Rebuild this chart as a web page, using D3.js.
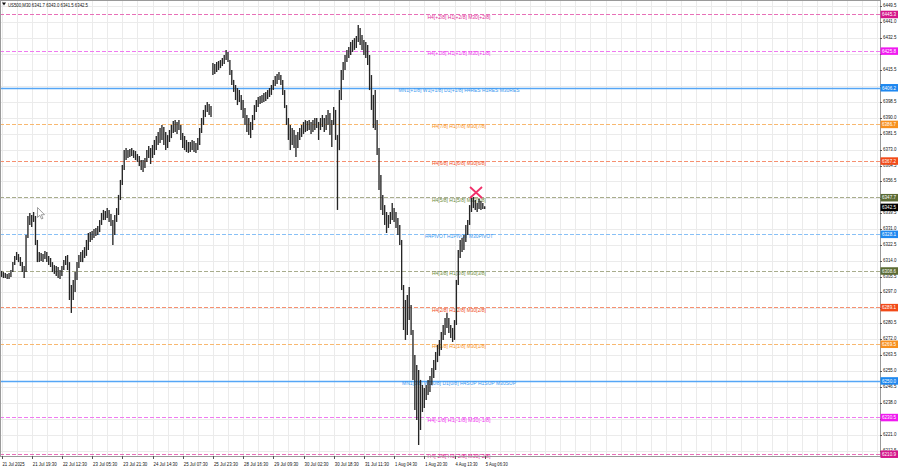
<!DOCTYPE html>
<html><head><meta charset="utf-8">
<script src="https://cdn.jsdelivr.net/npm/d3@7"></script>
<style>
html,body{margin:0;padding:0;background:#fff;}
svg{display:block;}
text{font-family:"Liberation Sans","DejaVu Sans",Arial,sans-serif;}
</style></head><body>
<svg id="c" width="900" height="467"></svg>
<script>
const symbolTitle = "US500,M30 6341.7 6343.0 6341.5 6342.5";

const highs = [
6308.5,6307.9,6307.4,6306.9,6307.4,6309.0,6313.2,6316.5,6318.6,6317.5,
6315.9,6313.2,6311.1,6327.6,6337.8,6339.4,6338.3,6339.9,6337.8,6325.0,
6318.6,6318.0,6317.5,6319.1,6318.6,6316.5,6315.4,6313.2,6311.6,6311.1,
6310.6,6309.0,6311.1,6314.3,6316.5,6317.0,6313.2,6301.0,6303.7,6307.9,
6313.2,6317.0,6318.6,6319.6,6321.2,6325.0,6328.7,6329.2,6329.8,6330.8,
6331.4,6332.4,6335.6,6339.4,6341.0,6340.4,6342.0,6341.0,6338.8,6335.6,
6338.3,6342.0,6349.0,6357.0,6365.0,6372.9,6374.0,6372.9,6373.5,6374.0,
6372.9,6372.4,6370.8,6369.8,6367.6,6367.6,6368.7,6372.9,6375.1,6374.0,
6375.6,6378.3,6380.4,6382.5,6384.7,6386.3,6385.2,6382.5,6380.9,6383.6,
6386.3,6388.4,6388.9,6387.9,6388.9,6386.3,6382.0,6380.4,6378.3,6377.2,
6377.2,6378.3,6377.7,6376.7,6379.3,6384.7,6390.0,6394.3,6396.9,6398.5,
6397.5,6396.4,6419.3,6418.8,6419.9,6420.4,6420.9,6422.0,6423.6,6426.3,
6425.2,6420.9,6415.6,6410.3,6407.6,6406.0,6404.9,6402.3,6399.6,6395.3,
6391.6,6390.0,6387.9,6391.6,6396.9,6399.6,6401.2,6401.7,6402.3,6403.3,
6403.9,6404.9,6406.0,6407.6,6410.3,6412.4,6413.5,6414.5,6412.9,6410.3,
6404.9,6396.9,6390.0,6386.3,6384.7,6383.6,6380.9,6382.5,6384.7,6386.3,
6387.9,6388.9,6388.4,6388.9,6387.9,6388.9,6390.0,6390.0,6387.9,6390.0,
6391.6,6390.0,6391.6,6394.3,6392.7,6388.9,6395.9,6394.3,6380.9,6404.9,
6415.6,6419.9,6423.6,6426.3,6427.8,6430.5,6431.6,6432.6,6433.7,6439.6,
6438.0,6434.2,6431.6,6430.5,6428.9,6423.6,6412.9,6402.3,6404.9,6388.9,
6374.0,6359.6,6349.0,6343.6,6339.9,6338.3,6339.9,6344.7,6342.0,6339.9,
6336.7,6333.0,6325.0,6301.0,6293.0,6295.7,6299.9,6290.3,6277.0,6263.7,
6258.4,6255.7,6250.4,6247.7,6246.1,6247.7,6250.4,6252.5,6256.8,6261.0,
6265.3,6269.0,6271.7,6276.0,6279.7,6283.4,6286.1,6283.4,6279.7,6278.1,
6282.3,6303.7,6319.6,6325.0,6326.0,6327.6,6333.0,6335.6,6343.6,6347.4,
6347.9,6346.3,6344.7,6346.8,6345.8,6344.7,6343.0];

const lows = [
6305.3,6304.7,6304.7,6304.2,6304.2,6305.3,6307.9,6311.6,6314.3,6313.2,
6311.1,6307.9,6304.7,6307.9,6326.0,6333.0,6331.9,6334.6,6322.3,6313.2,
6313.2,6313.8,6313.2,6314.9,6313.2,6311.6,6310.6,6307.9,6306.9,6305.8,
6304.7,6304.2,6305.8,6309.0,6311.6,6309.0,6293.0,6286.1,6293.0,6297.3,
6303.7,6310.1,6313.2,6313.2,6315.4,6316.5,6319.6,6323.9,6325.0,6326.0,
6327.1,6327.6,6329.2,6333.0,6335.6,6335.6,6336.7,6334.6,6332.4,6322.3,
6327.6,6334.6,6338.3,6346.3,6354.3,6362.3,6367.6,6368.7,6369.2,6369.8,
6368.7,6367.6,6366.6,6364.4,6362.3,6361.2,6363.4,6366.6,6368.7,6365.5,
6368.7,6370.3,6372.9,6375.6,6376.7,6378.3,6375.6,6372.9,6374.0,6377.2,
6379.3,6382.0,6382.5,6381.5,6383.6,6378.3,6374.0,6372.9,6371.9,6371.4,
6371.9,6372.9,6371.9,6371.4,6372.9,6375.6,6382.0,6386.3,6390.5,6393.2,
6391.6,6390.5,6412.9,6413.5,6414.5,6415.6,6416.6,6417.7,6418.8,6420.9,
6419.9,6412.9,6407.6,6403.9,6399.6,6396.9,6398.5,6394.3,6390.0,6386.3,
6382.5,6380.9,6379.3,6383.6,6388.9,6393.2,6395.9,6397.5,6398.0,6398.5,
6399.1,6400.1,6401.2,6402.3,6404.9,6407.1,6408.1,6410.3,6407.6,6402.3,
6395.3,6386.3,6378.3,6372.9,6375.6,6374.0,6369.2,6374.0,6378.3,6379.9,
6381.5,6382.5,6383.1,6383.6,6381.5,6382.5,6383.6,6384.7,6378.3,6383.6,
6385.2,6382.5,6383.6,6386.3,6380.9,6374.5,6386.3,6378.3,6341.0,6372.9,
6399.6,6410.3,6415.6,6419.9,6422.0,6423.6,6425.2,6426.3,6427.3,6430.5,
6428.9,6426.3,6423.6,6422.0,6418.3,6404.9,6394.3,6384.7,6383.6,6370.3,
6351.6,6341.0,6338.3,6333.0,6328.7,6331.4,6333.5,6335.6,6334.6,6331.4,
6327.6,6322.3,6298.3,6277.0,6271.7,6274.3,6282.3,6274.3,6250.4,6234.4,
6229.0,6215.7,6223.7,6233.3,6235.4,6239.7,6242.4,6244.0,6247.7,6251.4,
6255.7,6259.9,6263.2,6266.4,6271.7,6274.3,6278.1,6275.4,6272.8,6270.6,
6271.7,6279.7,6301.0,6315.4,6318.6,6319.6,6323.9,6327.6,6333.0,6339.9,
6342.0,6341.0,6339.9,6341.5,6341.0,6341.5,6341.5];

const timeLabels = ["21 Jul 2025","21 Jul 19:30","22 Jul 12:30","23 Jul 05:30","23 Jul 21:30","24 Jul 14:30","25 Jul 07:30","25 Jul 23:30","28 Jul 16:30","29 Jul 09:30","30 Jul 02:30","30 Jul 18:30","31 Jul 11:30","1 Aug 04:30","1 Aug 20:30","4 Aug 13:30","5 Aug 06:30"];
const timeLabelIdx = [0,16,32,48,64,80,96,112,128,144,160,176,192,208,224,240,256];

const priceTicks = [6449.5,6441.0,6432.5,6424.0,6415.5,6407.0,6398.5,6390.0,6381.5,6373.0,6364.5,6356.5,6347.5,6339.5,6331.0,6322.5,6314.0,6305.5,6297.0,6288.5,6280.5,6272.0,6263.5,6255.0,6246.5,6238.0,6229.5,6221.0,6212.5];
// tick labels that sit fully under a level price box in the reference
const priceTicksCovered = [6424.0,6407.0,6347.5,6288.5,6229.5];

const levelPrices = [6445.3125,6425.78125,6406.25,6386.71875,6367.1875,6347.65625,6328.125,6308.59375,6289.0625,6269.53125,6250.0,6230.46875,6210.9375];
const levelPriceText = ["6445.3","6425.8","6406.2","6386.7","6367.2","6347.7","6328.1","6308.6","6289.1","6269.5","6250.0","6230.5","6210.9"];
const levelNames = [
"H4[+2/8] H1[+2/8] M30[+2/8]",
"H4[+1/8] H1[+1/8] M30[+1/8]",
"MN1[+1/8] W1[+1/8] D1[+1/8] H4RES H1RES M30RES",
"H4[7/8] H1[7/8] M30[7/8]",
"H4[6/8] H1[6/8] M30[6/8]",
"H4[5/8] H1[5/8] M30[5/8]",
"H4PIVOT H1PIVOT M30PIVOT",
"H4[3/8] H1[3/8] M30[3/8]",
"H4[2/8] H1[2/8] M30[2/8]",
"H4[1/8] H1[1/8] M30[1/8]",
"MN1[0/8] W1[0/8] D1[0/8] H4SUP H1SUP M30SUP",
"H4[-1/8] H1[-1/8] M30[-1/8]",
"H4[-2/8] H1[-2/8] M30[-2/8]"];
const levelColors = ["#d4168a","#f019f0","#1e88f0","#f7901e","#f24a18","#5b6b34","#1e88f0","#5b6b34","#f24a18","#f7901e","#1e88f0","#f019f0","#d4168a"];
const levelLineColors = ["#e870b8","#f07af0","#55a6f6","#f8b870","#f69070","#a8ac8c","#88c0f6","#a8ac8c","#f69070","#f8b870","#55a6f6","#f07af0","#e870b8"];
const levelTextColors = ["#e02a96","#f030f0","#3a98f0","#f7901e","#f04a20","#6b8a3a","#3a98f0","#6b8a3a","#f04a20","#f7901e","#3a98f0","#f030f0","#e02a96"];
const levelSolid = [false,false,true,false,false,false,false,false,false,false,true,false,false];

const lastPrice = 6342.5;
const markerIndex = 251.4, markerPrice = 6350.3;

const plotR = 880, plotB = 456;
const svg = d3.select("#c");

// layout-only text widths (pixels) to mimic the compact terminal font
const labelW = [63,63,121,54,54,54,68,54,54,54,114,63,63];

const x = d3.scaleLinear().domain([0, 256]).range([1.5, 1.5 + 256 * 1.8875]);
const y = d3.scaleLinear().domain([6209.85, 6452.9]).range([plotB, 0]);

// grid
const gGrid = svg.append("g");
const vIdx = d3.range(0, 470, 8).filter(i => x(i) < plotR);
gGrid.selectAll("line.v").data(vIdx).join("line")
  .attr("x1", d => Math.round(x(d)) + 0.5).attr("x2", d => Math.round(x(d)) + 0.5)
  .attr("y1", 0).attr("y2", plotB)
  .attr("stroke", "#ebebeb").attr("stroke-width", 1);
gGrid.selectAll("line.h").data(priceTicks).join("line")
  .attr("x1", 0).attr("x2", plotR)
  .attr("y1", d => Math.round(y(d)) + 0.5).attr("y2", d => Math.round(y(d)) + 0.5)
  .attr("stroke", "#ebebeb").attr("stroke-width", 1);

// level lines
const gLev = svg.append("g");
gLev.selectAll("line").data(levelPrices).join("line")
  .attr("x1", 0).attr("x2", plotR)
  .attr("y1", d => Math.round(y(d)) + 0.5).attr("y2", d => Math.round(y(d)) + 0.5)
  .attr("stroke", (d, i) => levelLineColors[i])
  .attr("stroke-width", (d, i) => levelSolid[i] ? 1.6 : 1)
  .attr("stroke-dasharray", (d, i) => levelSolid[i] ? null : "4,2");

// candles
const gC = svg.append("g");
gC.selectAll("line").data(highs).join("line")
  .attr("x1", (d, i) => x(i)).attr("x2", (d, i) => x(i))
  .attr("y1", d => y(d))
  .attr("y2", (d, i) => Math.max(y(lows[i]), y(d) + 1.2))
  .attr("stroke", "#262626").attr("stroke-width", 1.35);

// level labels in chart
gLev.selectAll("text").data(levelNames).join("text")
  .attr("x", (d, i) => 459 - labelW[i] / 2).attr("y", (d, i) => y(levelPrices[i]) + 4.3)
  .attr("font-size", 5.4)
  .attr("fill", (d, i) => levelTextColors[i])
  .attr("textLength", (d, i) => labelW[i]).attr("lengthAdjust", "spacingAndGlyphs")
  .text(d => d);

// marker X
const mx = x(markerIndex), my = y(markerPrice);
svg.append("path")
  .attr("d", `M${mx-6},${my-5.5}L${mx+6},${my+5.5}M${mx+6},${my-5.5}L${mx-6},${my+5.5}`)
  .attr("stroke", "#f0306a").attr("stroke-width", 1.8).attr("fill", "none");

// frame
svg.append("rect").attr("x", 0.5).attr("y", 0.5).attr("width", plotR).attr("height", plotB)
  .attr("fill", "none").attr("stroke", "#9a9a9a").attr("stroke-width", 1);

// y axis labels
const gY = svg.append("g");
gY.selectAll("line").data(priceTicks).join("line")
  .attr("x1", plotR).attr("x2", plotR + 2)
  .attr("y1", d => Math.round(y(d)) + 0.5).attr("y2", d => Math.round(y(d)) + 0.5)
  .attr("stroke", "#555");
gY.selectAll("text").data(priceTicks.filter(d => !priceTicksCovered.includes(d))).join("text")
  .attr("x", 883).attr("y", d => y(d) + 1)
  .attr("font-size", 5.2).attr("fill", "#111")
  .attr("textLength", 13.5).attr("lengthAdjust", "spacingAndGlyphs")
  .text(d => d.toFixed(1));

// level price boxes
const gB = svg.append("g");
const boxes = levelPrices.map((p, i) => ({p, t: levelPriceText[i], c: levelColors[i]}));
boxes.push({p: lastPrice, t: lastPrice.toFixed(1), c: "#000"});
gB.selectAll("rect").data(boxes).join("rect")
  .attr("x", 880.5).attr("y", d => y(d.p) - 3.5).attr("width", 17.5).attr("height", 7.5)
  .attr("fill", d => d.c);
gB.selectAll("text").data(boxes).join("text")
  .attr("x", 882).attr("y", d => y(d.p) + 2)
  .attr("font-size", 5.2).attr("fill", "#fff")
  .attr("textLength", 14).attr("lengthAdjust", "spacingAndGlyphs")
  .text(d => d.t);

// x axis labels
const gX = svg.append("g");
gX.selectAll("line").data(timeLabelIdx).join("line")
  .attr("x1", d => Math.round(x(d)) + 0.5).attr("x2", d => Math.round(x(d)) + 0.5)
  .attr("y1", plotB).attr("y2", plotB + 3)
  .attr("stroke", "#555");
gX.selectAll("text").data(timeLabels).join("text")
  .attr("x", (d, i) => x(timeLabelIdx[i]) + 1).attr("y", 465.5)
  .attr("font-size", 5.6).attr("fill", "#111")
  .attr("textLength", d => d.length * 2.0).attr("lengthAdjust", "spacingAndGlyphs")
  .text(d => d);

// title
svg.append("path").attr("d", "M2,2.5L6,2.5L4,5.5Z").attr("fill", "#111");
svg.append("text").attr("x", 8).attr("y", 6.5).attr("font-size", 5.8).attr("fill", "#111")
  .attr("textLength", 80).attr("lengthAdjust", "spacingAndGlyphs").text(symbolTitle);

// mouse cursor
svg.append("path")
  .attr("d", "M37.5,207.5L37.5,217.5L39.8,215.3L41.5,219L43,218.3L41.3,214.7L44.5,214.7Z")
  .attr("fill", "#fff").attr("stroke", "#888").attr("stroke-width", 0.8);
</script>
</body></html>
